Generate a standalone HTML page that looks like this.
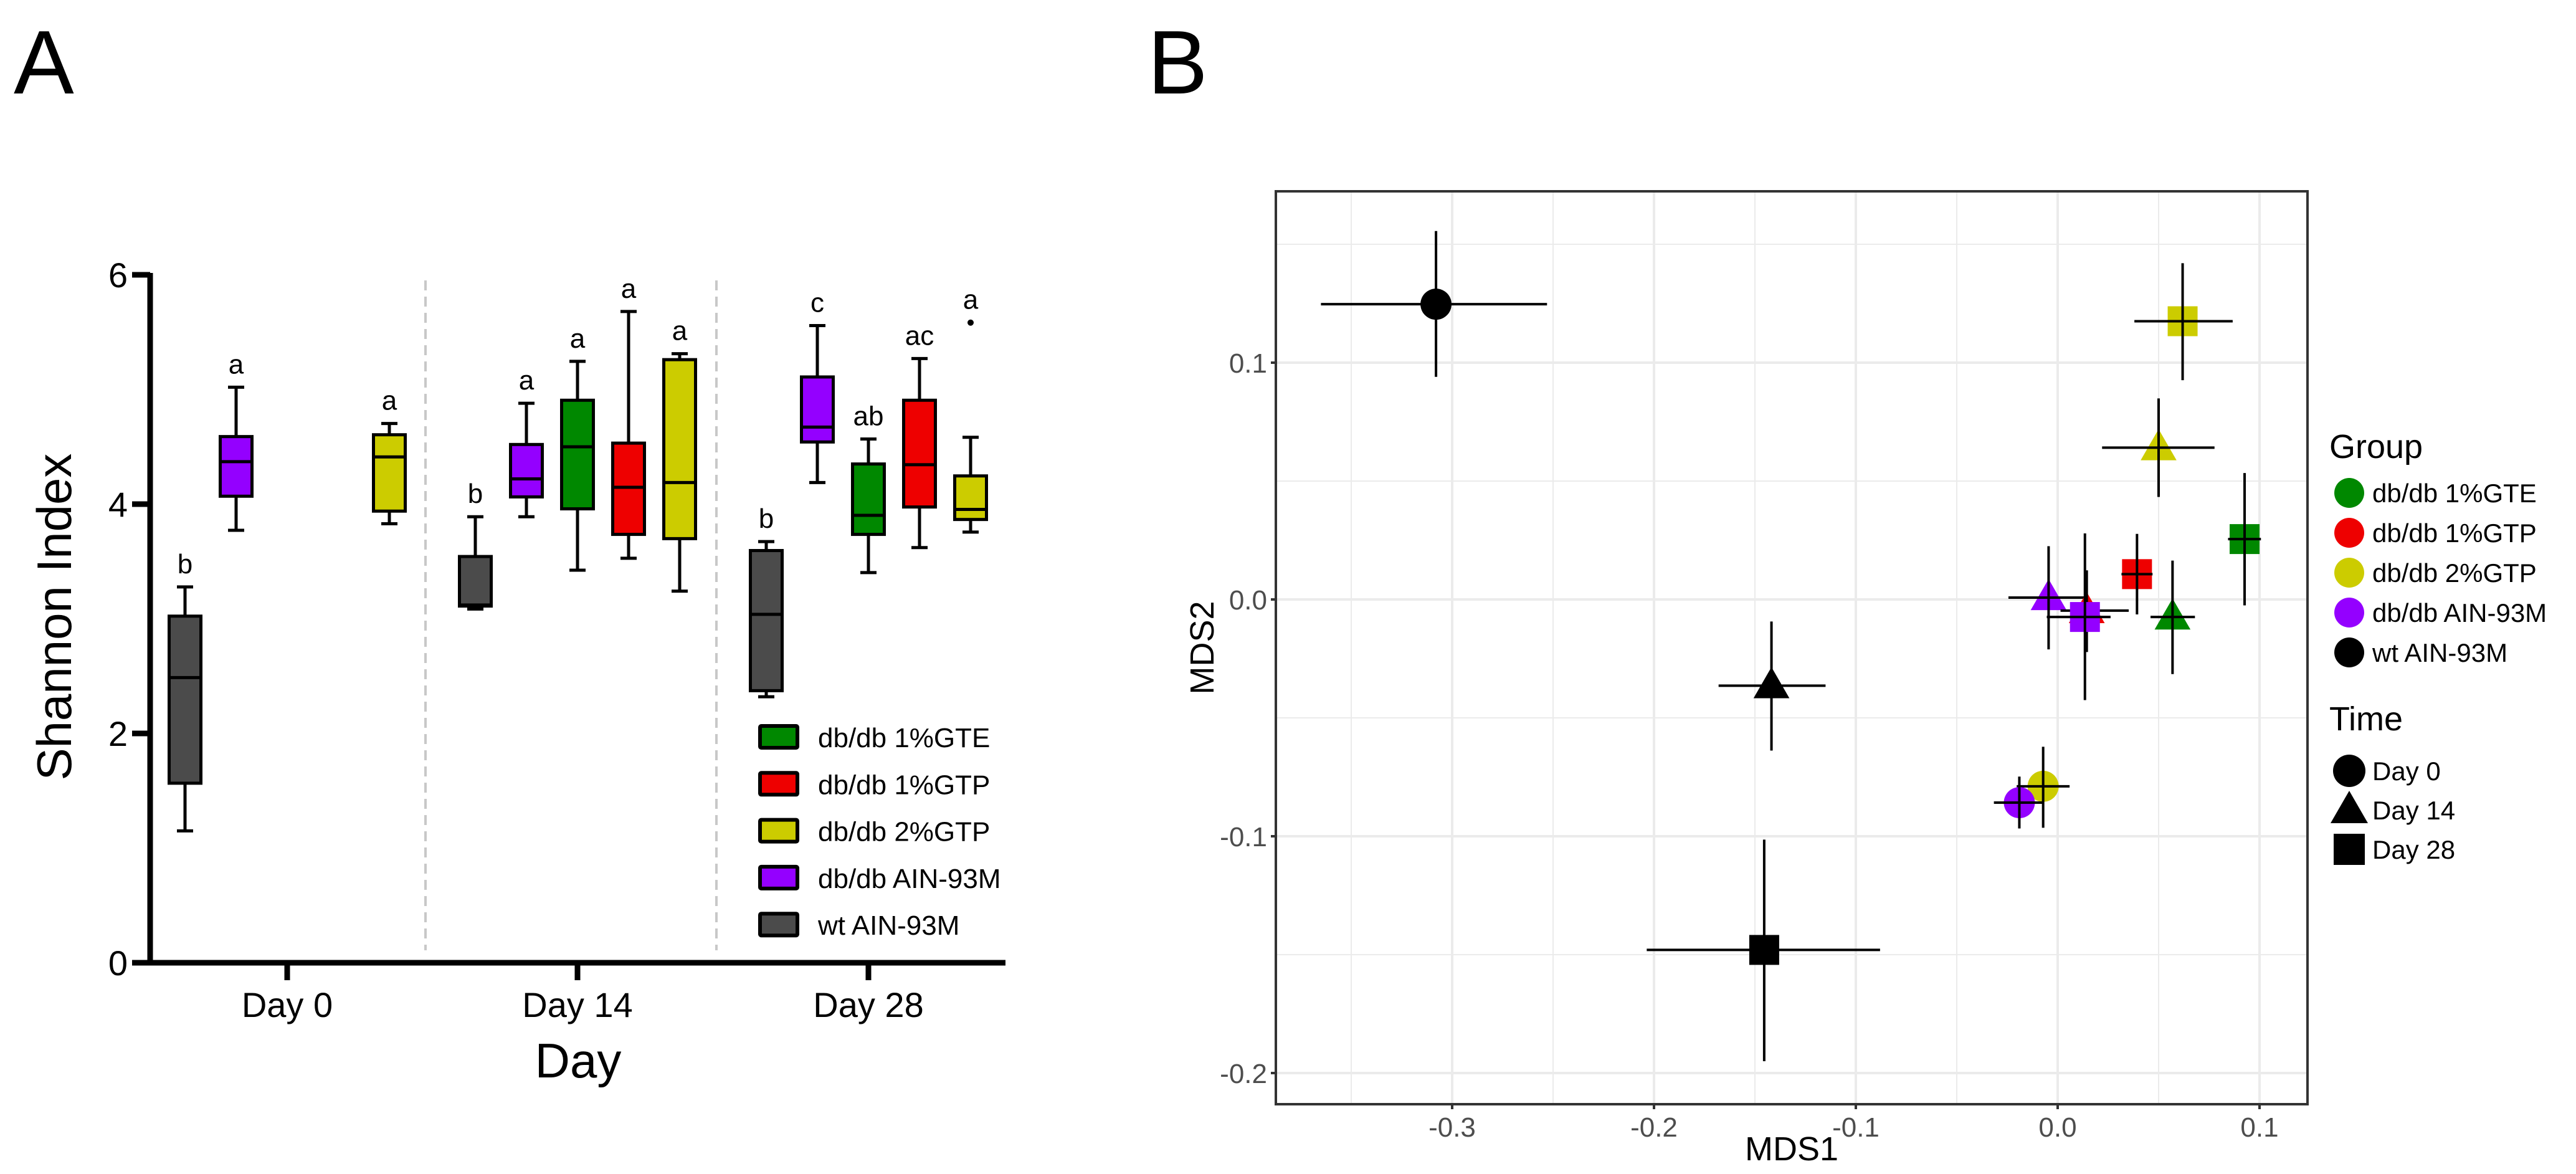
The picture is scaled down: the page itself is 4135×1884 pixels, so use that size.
<!DOCTYPE html>
<html><head><meta charset="utf-8"><style>
html,body{margin:0;padding:0;background:#fff}
svg{display:block;font-family:"Liberation Sans",Arial,sans-serif}
</style></head><body>
<svg id="fig" width="4135" height="1884" viewBox="0 0 4135 1884" xmlns="http://www.w3.org/2000/svg">
<text x="22" y="150" font-size="145">A</text>
<text x="1842" y="150" font-size="145">B</text>
<g id="pa"></g>
<g id="pb"></g>
</svg>
<script>
// ---------- Panel A data ----------
const days = ["Day 0","Day 14","Day 28"];
const groups = ["wt AIN-93M","db/db AIN-93M","db/db 1%GTE","db/db 1%GTP","db/db 2%GTP"];
const groupColors = ["#4b4b4b","#9400ff","#008800","#ee0000","#cccc00"];
const legendOrder = [2,3,4,1,0];
// [day, group, whiskerLo, q1, median, q3, whiskerHi]
const boxes = [
 [0,0,1.15,1.566,2.487,3.023,3.278],
 [0,1,3.772,4.069,4.37,4.589,5.02],
 [0,4,3.829,3.939,4.412,4.605,4.703],
 [1,0,3.085,3.111,3.12,3.543,3.89],
 [1,1,3.89,4.063,4.22,4.52,4.88],
 [1,2,3.424,3.959,4.5,4.906,5.245],
 [1,3,3.528,3.736,4.147,4.532,5.68],
 [1,4,3.241,3.699,4.188,5.26,5.312],
 [2,0,2.32,2.373,3.039,3.595,3.673],
 [2,1,4.188,4.542,4.672,5.109,5.557],
 [2,2,3.403,3.736,3.902,4.35,4.568],
 [2,3,3.621,3.975,4.344,4.906,5.27],
 [2,4,3.756,3.866,3.954,4.246,4.583]
];
const sigLetters = ["b","a","a","b","a","a","a","a","b","c","ab","ac","a"];
const outliers = [[2,4,5.583]];
const yTicksA = [0,2,4,6];

// ---------- Panel B data ----------
const mdsGroups = ["db/db 1%GTE","db/db 1%GTP","db/db 2%GTP","db/db AIN-93M","wt AIN-93M"];
const mdsColors = ["#008800","#ee0000","#cccc00","#9400ff","#000000"];
const timeLabels = ["Day 0","Day 14","Day 28"];
// [groupIndex, timeIndex]
const ptKeys = [[4,0],[4,1],[4,2],[2,2],[2,1],[0,2],[1,2],[3,1],[1,1],[3,2],[0,1],[2,0],[3,0]];
const mds1 = [-0.308,-0.1418,-0.1454,0.0619,0.050,0.0926,0.0393,-0.0045,0.0144,0.0135,0.0569,-0.0072,-0.019];
const mds2 = [0.1247,-0.0364,-0.148,0.1175,0.0641,0.0255,0.0107,0.0008,-0.0047,-0.0074,-0.0074,-0.0789,-0.0858];
const mds1Lo = [-0.365,-0.168,-0.2036,0.038,0.022,0.0844,0.0316,-0.0244,0.0014,-0.0054,0.046,-0.0203,-0.0316];
const mds1Hi = [-0.253,-0.115,-0.088,0.0867,0.0777,0.1007,0.047,0.0149,0.0352,0.0262,0.068,0.0059,-0.0068];
const mds2Lo = [0.094,-0.0638,-0.195,0.0926,0.0433,-0.0025,-0.0063,-0.0211,-0.0222,-0.0425,-0.0315,-0.0964,-0.0967];
const mds2Hi = [0.1556,-0.0093,-0.1014,0.142,0.0849,0.0534,0.0277,0.0225,0.0123,0.0279,0.0164,-0.0622,-0.0748];
const xTicksB = [-0.3,-0.2,-0.1,0.0,0.1];
const yTicksB = [-0.2,-0.1,0.0,0.1];

const NS="http://www.w3.org/2000/svg";
function mk(parent,tag,attrs,name){const e=document.createElementNS(NS,tag);for(const k in attrs)e.setAttribute(k,attrs[k]);


parent.appendChild(e);return e;}

// ---------- Panel A ----------
const pa=document.getElementById('pa');
const ay=v=>1545-v*184;
const dayX=[461,927,1394];
const ax=(d,g)=>dayX[d]+(g-2)*82;
const BW=51;
// dashed separators
[683,1150].forEach(x=>mk(pa,'line',{x1:x,y1:450,x2:x,y2:1525,stroke:'#c8c8c8','stroke-width':4,'stroke-dasharray':'16,10'},'day-separator'));
boxes.forEach((b,i)=>{
  const [d,g,lo,q1,md,q3,hi]=b; const cx=ax(d,g);
  const grp=mk(pa,'g',{},'box-'+days[d].replace(' ','').toLowerCase()+'-'+i);
  mk(grp,'line',{x1:cx,y1:ay(hi),x2:cx,y2:ay(q3),stroke:'#000','stroke-width':5},'whisker-upper');
  mk(grp,'line',{x1:cx,y1:ay(lo),x2:cx,y2:ay(q1),stroke:'#000','stroke-width':5},'whisker-lower');
  mk(grp,'line',{x1:cx-13,y1:ay(hi),x2:cx+13,y2:ay(hi),stroke:'#000','stroke-width':5},'whisker-cap');
  mk(grp,'line',{x1:cx-13,y1:ay(lo),x2:cx+13,y2:ay(lo),stroke:'#000','stroke-width':5},'whisker-cap');
  mk(grp,'rect',{x:cx-BW/2,y:ay(q3),width:BW,height:ay(q1)-ay(q3),fill:groupColors[g],stroke:'#000','stroke-width':5},'box-iqr');
  mk(grp,'line',{x1:cx-BW/2,y1:ay(md),x2:cx+BW/2,y2:ay(md),stroke:'#000','stroke-width':5},'box-median');
  let top=hi; outliers.forEach(o=>{if(o[0]===d&&o[1]===g)top=Math.max(top,o[2]);});
  const t=mk(pa,'text',{x:cx,y:ay(top)-22,'font-size':44,'text-anchor':'middle'},'significance-letter');t.textContent=sigLetters[i];
});
outliers.forEach(o=>mk(pa,'circle',{cx:ax(o[0],o[1]),cy:ay(o[2]),r:5,fill:'#000'},'outlier-point'));
// axes
mk(pa,'line',{x1:241,y1:438,x2:241,y2:1549,stroke:'#000','stroke-width':9},'y-axis-line');
mk(pa,'line',{x1:237,y1:1545,x2:1614,y2:1545,stroke:'#000','stroke-width':9},'x-axis-line');
yTicksA.forEach(v=>{mk(pa,'line',{x1:212,y1:ay(v),x2:241,y2:ay(v),stroke:'#000','stroke-width':9},'y-tick');
 const t=mk(pa,'text',{x:205,y:ay(v)+20,'font-size':56,'text-anchor':'end'},'y-tick-label');t.textContent=v;});
days.forEach((d,i)=>{mk(pa,'line',{x1:dayX[i],y1:1545,x2:dayX[i],y2:1573,stroke:'#000','stroke-width':9},'x-tick');
 const t=mk(pa,'text',{x:dayX[i],y:1632,'font-size':56,'text-anchor':'middle'},'x-tick-label');t.textContent=d;});
{const t=mk(pa,'text',{x:928,y:1729,'font-size':78,'text-anchor':'middle'},'x-axis-title');t.textContent='Day';}
{const t=mk(pa,'text',{x:0,y:0,'font-size':78,'text-anchor':'middle',transform:'translate(114,990) rotate(-90)'},'y-axis-title');t.textContent='Shannon Index';}
legendOrder.forEach((g,i)=>{const y=1183+i*75.3;
 const lg=mk(pa,'g',{},'legend-entry');
 mk(lg,'rect',{x:1220,y:y-18,width:60,height:35,fill:groupColors[g],stroke:'#000','stroke-width':6,rx:2},'legend-swatch');
 const t=mk(lg,'text',{x:1313,y:y+16,'font-size':44},'legend-label');t.textContent=groups[g];});

// ---------- Panel B ----------
const pb=document.getElementById('pb');
const L=2048,R=3704,T=307,B=1772;
const bx=v=>3303+v*3240, by=v=>962-v*3800;
for(let v=-0.35;v<=0.11;v+=0.1){mk(pb,'line',{x1:bx(v),y1:T,x2:bx(v),y2:B,stroke:'#ebebeb','stroke-width':2},'minor-grid-x');}
for(let v=-0.15;v<=0.16;v+=0.1){mk(pb,'line',{x1:L,y1:by(v),x2:R,y2:by(v),stroke:'#ebebeb','stroke-width':2},'minor-grid-y');}
xTicksB.forEach(v=>mk(pb,'line',{x1:bx(v),y1:T,x2:bx(v),y2:B,stroke:'#ebebeb','stroke-width':4},'major-grid-x'));
yTicksB.forEach(v=>mk(pb,'line',{x1:L,y1:by(v),x2:R,y2:by(v),stroke:'#ebebeb','stroke-width':4},'major-grid-y'));
function marker(parent,shape,x,y,col,s,name){
 if(shape===0) return mk(parent,'circle',{cx:x,cy:y,r:s*0.52,fill:col},name);
 if(shape===1) return mk(parent,'polygon',{points:`${x},${y-s*0.62} ${x-s*0.6},${y+s*0.42} ${x+s*0.6},${y+s*0.42}`,fill:col},name);
 return mk(parent,'rect',{x:x-s/2,y:y-s/2,width:s,height:s,fill:col},name);
}
ptKeys.forEach((k,i)=>{
 const g=mk(pb,'g',{},'point-'+mdsGroups[k[0]].replace(/[^a-z0-9]+/gi,'-').toLowerCase()+'-'+timeLabels[k[1]].replace(' ','').toLowerCase());
 marker(g,k[1],bx(mds1[i]),by(mds2[i]),mdsColors[k[0]],48,'point-marker');
 mk(g,'line',{x1:bx(mds1Lo[i]),y1:by(mds2[i]),x2:bx(mds1Hi[i]),y2:by(mds2[i]),stroke:'#000','stroke-width':4},'error-bar-x');
 mk(g,'line',{x1:bx(mds1[i]),y1:by(mds2Lo[i]),x2:bx(mds1[i]),y2:by(mds2Hi[i]),stroke:'#000','stroke-width':4},'error-bar-y');
});
mk(pb,'rect',{x:L,y:T,width:R-L,height:B-T,fill:'none',stroke:'#333','stroke-width':4},'plot-border');
xTicksB.forEach(v=>{mk(pb,'line',{x1:bx(v),y1:B,x2:bx(v),y2:B+8,stroke:'#333','stroke-width':4},'x-tick');
 const t=mk(pb,'text',{x:bx(v),y:B+52,'font-size':44,fill:'#4d4d4d','text-anchor':'middle'},'x-tick-label');t.textContent=v.toFixed(1);});
yTicksB.forEach(v=>{mk(pb,'line',{x1:L-8,y1:by(v),x2:L,y2:by(v),stroke:'#333','stroke-width':4},'y-tick');
 const t=mk(pb,'text',{x:L-14,y:by(v)+16,'font-size':44,fill:'#4d4d4d','text-anchor':'end'},'y-tick-label');t.textContent=v.toFixed(1);});
{const t=mk(pb,'text',{x:(L+R)/2,y:1862,'font-size':54,'text-anchor':'middle'},'x-axis-title');t.textContent='MDS1';}
{const t=mk(pb,'text',{x:0,y:0,'font-size':54,'text-anchor':'middle',transform:`translate(1948,${(T+B)/2}) rotate(-90)`},'y-axis-title');t.textContent='MDS2';}
{const t=mk(pb,'text',{x:3739,y:735,'font-size':54},'legend-group-title');t.textContent='Group';}
mdsGroups.forEach((n,i)=>{const y=791+i*64;const lg=mk(pb,'g',{},'legend-group-entry');
 mk(lg,'circle',{cx:3771,cy:y,r:24,fill:mdsColors[i]},'legend-group-key');
 const t=mk(lg,'text',{x:3808,y:y+15,'font-size':42},'legend-group-label');t.textContent=n;});
{const t=mk(pb,'text',{x:3739,y:1172,'font-size':54},'legend-time-title');t.textContent='Time';}
timeLabels.forEach((n,i)=>{const y=1237+i*63;const lg=mk(pb,'g',{},'legend-time-entry');
 marker(lg,i,3771,y,'#000',50,'legend-time-key');
 const t=mk(lg,'text',{x:3808,y:y+15,'font-size':42},'legend-time-label');t.textContent=n;});
</script>
</body></html>
